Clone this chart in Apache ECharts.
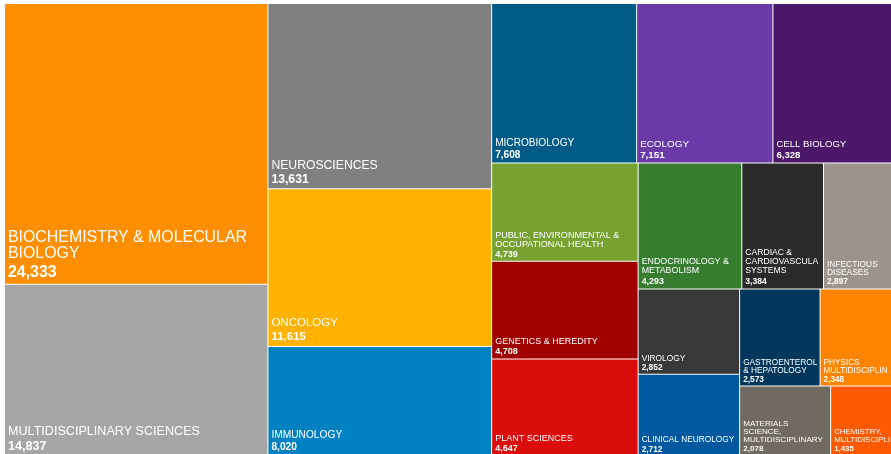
<!DOCTYPE html>
<html>
<head>
<meta charset="utf-8">
<script src="https://cdn.jsdelivr.net/npm/echarts@6/dist/echarts.min.js"></script>
<style>
html,body{margin:0;padding:0;background:#fff;}
#c{width:891px;height:454px;}
</style>
</head>
<body>
<div id="c"></div>
<script>
// Categories (full names)
const categories = [
  'BIOCHEMISTRY & MOLECULAR BIOLOGY',
  'MULTIDISCIPLINARY SCIENCES',
  'NEUROSCIENCES',
  'ONCOLOGY',
  'IMMUNOLOGY',
  'MICROBIOLOGY',
  'ECOLOGY',
  'CELL BIOLOGY',
  'PUBLIC, ENVIRONMENTAL & OCCUPATIONAL HEALTH',
  'GENETICS & HEREDITY',
  'PLANT SCIENCES',
  'ENDOCRINOLOGY & METABOLISM',
  'CARDIAC & CARDIOVASCULAR SYSTEMS',
  'INFECTIOUS DISEASES',
  'VIROLOGY',
  'CLINICAL NEUROLOGY',
  'GASTROENTEROLOGY & HEPATOLOGY',
  'PHYSICS MULTIDISCIPLINARY',
  'MATERIALS SCIENCE, MULTIDISCIPLINARY',
  'CHEMISTRY, MULTIDISCIPLINARY'
];
// Label text as wrapped in the picture
const labelLines = [
  'BIOCHEMISTRY & MOLECULAR\nBIOLOGY',
  'MULTIDISCIPLINARY SCIENCES',
  'NEUROSCIENCES',
  'ONCOLOGY',
  'IMMUNOLOGY',
  'MICROBIOLOGY',
  'ECOLOGY',
  'CELL BIOLOGY',
  'PUBLIC, ENVIRONMENTAL &\nOCCUPATIONAL HEALTH',
  'GENETICS & HEREDITY',
  'PLANT SCIENCES',
  'ENDOCRINOLOGY &\nMETABOLISM',
  'CARDIAC &\nCARDIOVASCULAR\nSYSTEMS',
  'INFECTIOUS\nDISEASES',
  'VIROLOGY',
  'CLINICAL NEUROLOGY',
  'GASTROENTEROLOGY\n& HEPATOLOGY',
  'PHYSICS\nMULTIDISCIPLINARY',
  'MATERIALS\nSCIENCE,\nMULTIDISCIPLINARY',
  'CHEMISTRY,\nMULTIDISCIPLINARY'
];
// Record counts
const values = [24333, 14837, 13631, 11615, 8020, 7608, 7151, 6328, 4739, 4708,
  4647, 4293, 3384, 2897, 2852, 2712, 2573, 2348, 2078, 1435];
// Colours
const palette = ['#FF8F00', '#A6A6A6', '#808080', '#FFB300', '#0081C2', '#005A86',
  '#6A3AA7', '#4A1769', '#77A232', '#A00000', '#DB0C0C', '#367D2F', '#2A2A2A',
  '#9C948B', '#383838', '#0058A0', '#00375B', '#FF8400', '#716A61', '#FF5A00'];

const fontFamily = 'Liberation Sans, Arial, sans-serif';
const PAD_B = 0, PAD_L = 3;
function fmt(v){ return String(v).replace(/\B(?=(\d{3})+(?!\d))/g, ','); }

function metrics(i) {
  const f = Math.round((7.4 + 0.00035 * values[i]) * 10) / 10;
  const lhN = Math.round(f * 1.0);
  const lhV = Math.round(f * 1.35);
  const nLines = labelLines[i].split('\n').length;
  return { f, lhN, lhV, contentH: nLines * lhN + lhV };
}

function buildData(padTops) {
  return categories.map((name, i) => {
    const m = metrics(i);
    return {
      name: name,
      value: values[i],
      itemStyle: { color: palette[i] },
      label: {
        padding: [padTops ? padTops[i] : 0, 0, PAD_B, PAD_L],
        rich: {
          n: { fontSize: m.f, lineHeight: m.lhN, color: '#fff', fontFamily: fontFamily },
          v: { fontSize: m.f, lineHeight: m.lhV, color: '#fff', fontWeight: 'bold', fontFamily: fontFamily }
        }
      }
    };
  });
}

const chart = echarts.init(document.getElementById('c'), null, { renderer: 'canvas' });
chart.setOption({
  backgroundColor: '#fff',
  animation: false,
  tooltip: { show: false },
  series: [{
    type: 'treemap',
    left: 5,
    top: 4,
    width: 888,
    height: 451,
    roam: false,
    nodeClick: false,
    breadcrumb: { show: false },
    itemStyle: { gapWidth: 1, borderWidth: 0, borderColor: '#fff' },
    label: {
      show: true,
      position: 'insideTopLeft',
      distance: 0,
      overflow: 'truncate',
      ellipsis: '',
      fontFamily: fontFamily,
      formatter: function (p) {
        const idx = categories.indexOf(p.name);
        if (idx < 0) return '';
        const lines = labelLines[idx].split('\n').map(l => '{n|' + l + '}').join('\n');
        return lines + '\n{v|' + fmt(p.value) + '}';
      }
    },
    emphasis: { disabled: true },
    data: buildData(null)
  }]
});

// Push each label to the bottom of its cell using the layout computed by ECharts
const sData = chart.getModel().getSeriesByIndex(0).getData();
const padTops = categories.map(() => 0);
for (let k = 0; k < sData.count(); k++) {
  const idx = categories.indexOf(sData.getName(k));
  const lay = sData.getItemLayout(k);
  if (idx < 0 || !lay) continue;
  const m = metrics(idx);
  padTops[idx] = Math.max(0, Math.floor(lay.height - m.contentH - PAD_B));
}
chart.setOption({ series: [{ data: buildData(padTops) }] });
</script>
</body>
</html>
